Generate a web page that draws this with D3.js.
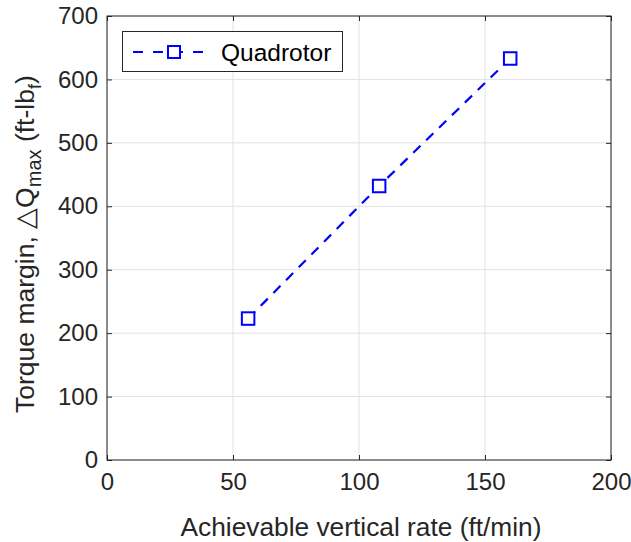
<!DOCTYPE html>
<html><head><meta charset="utf-8">
<script src="https://cdn.jsdelivr.net/npm/d3@7"></script>
<style>body{margin:0;background:#fff}svg{display:block}text{font-family:"Liberation Sans",Arial,Helvetica,sans-serif}</style>
</head><body>
<svg id="c" width="631" height="542"></svg>
<script>
const rates = [56, 108, 160];
const torque = [223, 432, 633];
const seriesName = "Quadrotor";
const xTicks = [0, 50, 100, 150, 200];
const yTicks = [0, 100, 200, 300, 400, 500, 600, 700];

const svg = d3.select("#c");
const L = 107, R = 611, T = 16, B = 460;
const x = d3.scaleLinear().domain([0, 200]).range([L, R]);
const y = d3.scaleLinear().domain([0, 700]).range([B, T]);
const axisCol = "#262626";

// grid
const g = svg.append("g");
g.selectAll(".gx").data(xTicks).enter().append("line")
  .attr("x1", d => x(d)).attr("x2", d => x(d)).attr("y1", T).attr("y2", B)
  .attr("stroke", "#e3e3e3").attr("stroke-width", 1);
g.selectAll(".gy").data(yTicks).enter().append("line")
  .attr("y1", d => y(d)).attr("y2", d => y(d)).attr("x1", L).attr("x2", R)
  .attr("stroke", "#e3e3e3").attr("stroke-width", 1);

// axes
function styleAxis(sel) {
  sel.select(".domain").remove();
  sel.selectAll(".tick line").attr("stroke", axisCol);
  sel.selectAll(".tick text").attr("fill", axisCol).attr("font-size", 24);
}
svg.append("g").attr("transform", `translate(0,${B})`)
  .call(d3.axisBottom(x).tickValues(xTicks).tickSizeInner(-5).tickSizeOuter(0).tickPadding(13))
  .call(styleAxis);
svg.append("g").attr("transform", `translate(0,${T})`)
  .call(d3.axisTop(x).tickValues(xTicks).tickSizeInner(-5).tickSizeOuter(0).tickFormat(""))
  .call(styleAxis);
svg.append("g").attr("transform", `translate(${L},0)`)
  .call(d3.axisLeft(y).tickValues(yTicks).tickSizeInner(-5).tickSizeOuter(0).tickPadding(9))
  .call(styleAxis);
svg.append("g").attr("transform", `translate(${R},0)`)
  .call(d3.axisRight(y).tickValues(yTicks).tickSizeInner(-5).tickSizeOuter(0).tickFormat(""))
  .call(styleAxis);
svg.append("rect").attr("x", L).attr("y", T).attr("width", R - L).attr("height", B - T)
  .attr("fill", "none").attr("stroke", axisCol).attr("stroke-width", 1);

// series
const data = rates.map((r, i) => ({ r, q: torque[i] }));
const line = d3.line().x(d => x(d.r)).y(d => y(d.q));
svg.append("path").datum(data).attr("d", line)
  .attr("fill", "none").attr("stroke", "#0000ff").attr("stroke-width", 2.2)
  .attr("stroke-dasharray", "10,8");
const ms = 12.5;
svg.selectAll(".m").data(data).enter().append("rect")
  .attr("x", d => x(d.r) - ms / 2).attr("y", d => y(d.q) - ms / 2)
  .attr("width", ms).attr("height", ms)
  .attr("fill", "#fff").attr("stroke", "#0000ff").attr("stroke-width", 2);

// legend
const lg = svg.append("g");
lg.append("rect").attr("x", 122.5).attr("y", 31.5).attr("width", 220).attr("height", 40)
  .attr("fill", "#fff").attr("stroke", axisCol).attr("stroke-width", 1);
lg.append("line").attr("x1", 133).attr("x2", 204).attr("y1", 52).attr("y2", 52)
  .attr("stroke", "#0000ff").attr("stroke-width", 2.2).attr("stroke-dasharray", "10,10");
lg.append("rect").attr("x", 174 - 6).attr("y", 52 - 6).attr("width", 12).attr("height", 12)
  .attr("fill", "#fff").attr("stroke", "#0000ff").attr("stroke-width", 2);
lg.append("text").attr("x", 221).attr("y", 61).attr("font-size", 24.5).attr("fill", "#000").text(seriesName);

// axis labels
svg.append("text").attr("x", (L + R) / 2 + 2).attr("y", 536).attr("text-anchor", "middle")
  .attr("font-size", 26.3).attr("fill", axisCol).text("Achievable vertical rate (ft/min)");
const yl = svg.append("text").attr("transform", `translate(34,413) rotate(-90)`)
  .attr("text-anchor", "start").attr("font-size", 26.5).attr("fill", axisCol);
yl.append("tspan").text("Torque margin, △Q");
yl.append("tspan").attr("font-size", 20).attr("dy", 7).text("max");
yl.append("tspan").attr("dy", -7).text(" (ft-lb");
yl.append("tspan").attr("font-size", 18).attr("dy", 7).text("f");
yl.append("tspan").attr("dy", -7).text(")");
</script>
</body></html>
